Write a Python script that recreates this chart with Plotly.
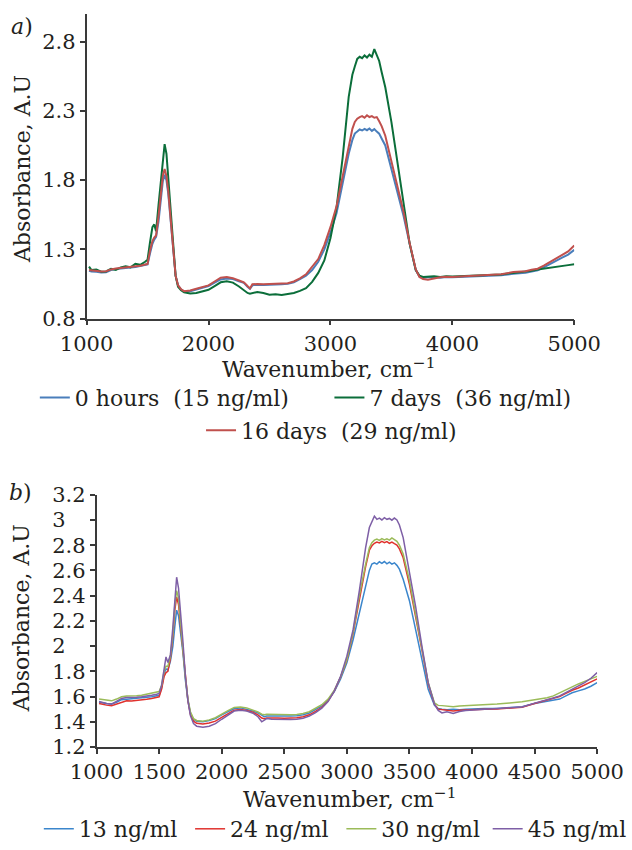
import plotly.graph_objects as go

# ---------------- data ----------------
WAVENUMBER = [
    1020, 1040, 1080, 1120, 1160, 1200, 1240, 1280, 1320, 1360,
    1400, 1440, 1480, 1500, 1520, 1540, 1555, 1570, 1590, 1610,
    1625, 1640, 1655, 1670, 1690, 1710, 1730, 1750, 1775, 1800,
    1850, 1900, 1950, 2000, 2050, 2100, 2150, 2200, 2250, 2290,
    2320, 2340, 2360, 2400, 2450, 2500, 2550, 2600, 2650, 2700,
    2750, 2800, 2850, 2900, 2950, 3000, 3050, 3100, 3150, 3180,
    3200, 3220, 3240, 3260, 3280, 3300, 3320, 3340, 3360, 3380,
    3400, 3420, 3450, 3500, 3550, 3600, 3650, 3700, 3730, 3760,
    3800, 3850, 3900, 3950, 4000, 4100, 4200, 4300, 4400, 4500,
    4600, 4650, 4700, 4750, 4800, 4850, 4900, 4950, 5000,
]

# panel a)
A_0_HOURS = [
    1.145, 1.140, 1.138, 1.133, 1.135, 1.150, 1.158, 1.160, 1.162, 1.168,
    1.172, 1.178, 1.185, 1.192, 1.270, 1.340, 1.370, 1.390, 1.500, 1.700,
    1.790, 1.838, 1.800, 1.700, 1.500, 1.290, 1.110, 1.040, 1.010, 0.995,
    0.998, 1.010, 1.020, 1.035, 1.060, 1.083, 1.090, 1.085, 1.070, 1.058,
    1.030, 1.015, 1.040, 1.045, 1.042, 1.043, 1.045, 1.048, 1.052, 1.062,
    1.085, 1.110, 1.150, 1.210, 1.300, 1.420, 1.560, 1.780, 1.990, 2.090,
    2.136, 2.150, 2.165, 2.158, 2.170, 2.160, 2.172, 2.155, 2.168, 2.150,
    2.135, 2.100, 2.050, 1.880, 1.720, 1.540, 1.340, 1.150, 1.105, 1.095,
    1.098, 1.100, 1.095, 1.100, 1.098, 1.102, 1.105, 1.110, 1.112, 1.124,
    1.130, 1.140, 1.148, 1.170, 1.195, 1.215, 1.240, 1.262, 1.296,
]
A_7_DAYS = [
    1.175, 1.150, 1.155, 1.138, 1.140, 1.160, 1.152, 1.170, 1.178, 1.170,
    1.195, 1.188, 1.210, 1.225, 1.350, 1.460, 1.480, 1.430, 1.620, 1.820,
    1.960, 2.060, 1.990, 1.800, 1.540, 1.290, 1.110, 1.030, 1.005, 0.990,
    0.982, 0.985, 0.998, 1.008, 1.035, 1.062, 1.070, 1.060, 1.032, 1.005,
    0.985, 0.980, 0.985, 0.992, 0.985, 0.972, 0.975, 0.970, 0.978, 0.985,
    1.000, 1.020, 1.065, 1.130, 1.220, 1.380, 1.600, 1.960, 2.400, 2.560,
    2.620, 2.675, 2.690, 2.680, 2.700, 2.685, 2.705, 2.690, 2.745, 2.700,
    2.660, 2.580, 2.470, 2.220, 1.920, 1.620, 1.340, 1.150, 1.110, 1.100,
    1.102, 1.105, 1.100, 1.105, 1.103, 1.108, 1.112, 1.115, 1.118, 1.130,
    1.138, 1.145, 1.155, 1.162, 1.170, 1.175, 1.182, 1.186, 1.192,
]
A_16_DAYS = [
    1.150, 1.148, 1.142, 1.140, 1.142, 1.155, 1.162, 1.165, 1.168, 1.172,
    1.176, 1.182, 1.190, 1.195, 1.290, 1.360, 1.385, 1.400, 1.540, 1.720,
    1.830, 1.880, 1.830, 1.720, 1.510, 1.290, 1.110, 1.040, 1.012, 0.998,
    1.003, 1.015, 1.025, 1.040, 1.068, 1.095, 1.100, 1.092, 1.075, 1.062,
    1.035, 1.018, 1.048, 1.050, 1.047, 1.048, 1.050, 1.052, 1.055, 1.068,
    1.090, 1.120, 1.172, 1.230, 1.330, 1.460, 1.610, 1.830, 2.060, 2.170,
    2.220, 2.243, 2.255, 2.262, 2.250, 2.268, 2.255, 2.262, 2.250, 2.255,
    2.225, 2.190, 2.120, 1.930, 1.750, 1.570, 1.345, 1.155, 1.100, 1.085,
    1.080, 1.090, 1.098, 1.102, 1.100, 1.106, 1.110, 1.115, 1.120, 1.136,
    1.142, 1.152, 1.160, 1.182, 1.207, 1.232, 1.255, 1.285, 1.327,
]

# panel b)
B_13 = [
    1.555, 1.550, 1.545, 1.542, 1.555, 1.575, 1.580, 1.582, 1.585, 1.590,
    1.595, 1.598, 1.603, 1.610, 1.670, 1.780, 1.820, 1.810, 1.880, 2.000,
    2.150, 2.285, 2.240, 2.120, 1.950, 1.730, 1.570, 1.470, 1.420, 1.405,
    1.400, 1.410, 1.425, 1.455, 1.480, 1.505, 1.510, 1.500, 1.485, 1.470,
    1.450, 1.440, 1.445, 1.445, 1.443, 1.442, 1.445, 1.448, 1.455, 1.470,
    1.495, 1.525, 1.570, 1.640, 1.740, 1.867, 2.050, 2.260, 2.490, 2.600,
    2.650, 2.660, 2.650, 2.668, 2.655, 2.670, 2.652, 2.665, 2.650, 2.660,
    2.640, 2.610, 2.530, 2.360, 2.128, 1.893, 1.657, 1.530, 1.505, 1.500,
    1.495, 1.500, 1.495, 1.500, 1.500, 1.505, 1.506, 1.512, 1.520, 1.545,
    1.560, 1.568, 1.580, 1.605, 1.630, 1.645, 1.660, 1.682, 1.710,
]
B_24 = [
    1.545, 1.540, 1.532, 1.527, 1.540, 1.558, 1.566, 1.565, 1.568, 1.572,
    1.578, 1.585, 1.592, 1.598, 1.660, 1.760, 1.790, 1.800, 1.900, 2.080,
    2.280, 2.390, 2.330, 2.180, 1.980, 1.740, 1.570, 1.460, 1.405, 1.388,
    1.383, 1.390, 1.405, 1.435, 1.465, 1.492, 1.498, 1.490, 1.475, 1.455,
    1.430, 1.425, 1.430, 1.432, 1.430, 1.428, 1.430, 1.432, 1.440, 1.455,
    1.482, 1.515, 1.565, 1.645, 1.755, 1.890, 2.100, 2.380, 2.630, 2.760,
    2.795, 2.815, 2.825, 2.818, 2.830, 2.820, 2.828, 2.815, 2.825, 2.812,
    2.800, 2.770, 2.700, 2.490, 2.240, 1.970, 1.700, 1.540, 1.500, 1.495,
    1.490, 1.485, 1.492, 1.495, 1.496, 1.500, 1.502, 1.508, 1.515, 1.545,
    1.570, 1.582, 1.600, 1.625, 1.650, 1.668, 1.690, 1.712, 1.740,
]
B_30 = [
    1.580, 1.578, 1.570, 1.566, 1.580, 1.598, 1.605, 1.603, 1.606, 1.610,
    1.618, 1.625, 1.632, 1.640, 1.690, 1.800, 1.840, 1.840, 1.920, 2.100,
    2.320, 2.440, 2.380, 2.200, 1.990, 1.750, 1.580, 1.480, 1.425, 1.410,
    1.405, 1.415, 1.432, 1.462, 1.488, 1.514, 1.518, 1.510, 1.492, 1.478,
    1.460, 1.455, 1.460, 1.458, 1.455, 1.453, 1.455, 1.458, 1.465, 1.480,
    1.505, 1.535, 1.580, 1.650, 1.755, 1.893, 2.110, 2.400, 2.650, 2.780,
    2.820, 2.840, 2.848, 2.838, 2.852, 2.842, 2.850, 2.840, 2.858, 2.845,
    2.830, 2.800, 2.730, 2.520, 2.260, 1.980, 1.710, 1.550, 1.530, 1.528,
    1.522, 1.520, 1.525, 1.527, 1.527, 1.535, 1.540, 1.548, 1.558, 1.574,
    1.590, 1.605, 1.630, 1.655, 1.680, 1.700, 1.720, 1.740, 1.760,
]
B_45 = [
    1.560, 1.553, 1.545, 1.540, 1.560, 1.585, 1.592, 1.590, 1.594, 1.598,
    1.602, 1.610, 1.618, 1.625, 1.690, 1.840, 1.914, 1.870, 1.930, 2.150,
    2.380, 2.546, 2.460, 2.300, 2.040, 1.760, 1.570, 1.450, 1.385, 1.365,
    1.357, 1.365, 1.385, 1.420, 1.455, 1.485, 1.492, 1.485, 1.468, 1.440,
    1.400, 1.415, 1.425, 1.420, 1.418, 1.415, 1.418, 1.420, 1.428, 1.445,
    1.472, 1.508, 1.560, 1.645, 1.760, 1.920, 2.130, 2.440, 2.780, 2.940,
    2.990, 3.030, 3.005, 3.015, 3.000, 3.018, 3.005, 3.012, 2.998, 3.015,
    3.000, 2.960, 2.860, 2.600, 2.310, 1.997, 1.710, 1.540, 1.490, 1.470,
    1.480, 1.465, 1.482, 1.490, 1.495, 1.500, 1.505, 1.510, 1.518, 1.548,
    1.572, 1.588, 1.605, 1.630, 1.655, 1.680, 1.710, 1.745, 1.790,
]

NAMES_A = ["0 hours\u00a0\u00a0(15 ng/ml)", "7 days\u00a0\u00a0(36 ng/ml)", "16 days\u00a0\u00a0(29 ng/ml)"]
NAMES_B = ["13 ng/ml", "24 ng/ml", "30 ng/ml", "45 ng/ml"]

X_TICKS_A = [1000, 2000, 3000, 4000, 5000]
Y_TICKS_A = [0.8, 1.3, 1.8, 2.3, 2.8]
X_TICKS_B = [1000, 1500, 2000, 2500, 3000, 3500, 4000, 4500, 5000]
Y_TICKS_B = [1.2, 1.4, 1.6, 1.8, 2.0, 2.2, 2.4, 2.6, 2.8, 3.0, 3.2]
Y_TICKTEXT_B = ["1.2", "1.4", "1.6", "1.8", "2\u00a0\u00a0\u00a0", "2.2", "2.4",
                "2.6", "2.8", "3\u00a0\u00a0\u00a0", "3.2"]

# ---------------- styling ----------------
W, H = 632, 850
FONT = "DejaVu Serif"
TXT = "#231f20"
AXC = "#3a3a3a"
COLORS_A = ["#4A7EBB", "#0B6E3A", "#C0504D"]
COLORS_B = ["#3B86CC", "#E0322E", "#9BBB59", "#7E5FA6"]


def fx(px):
    return px / W


def fy(py):
    return 1 - py / H


fig = go.Figure()

legends_a = ["legend", "legend2", "legend3"]
for ys, name, col, lg in zip([A_0_HOURS, A_7_DAYS, A_16_DAYS], NAMES_A, COLORS_A, legends_a):
    fig.add_trace(go.Scatter(x=WAVENUMBER, y=ys, mode="lines", name=name,
                             line=dict(color=col, width=2), xaxis="x", yaxis="y",
                             legend=lg))

legends_b = ["legend4", "legend5", "legend6", "legend7"]
for ys, name, col, lg in zip([B_13, B_24, B_30, B_45], NAMES_B, COLORS_B, legends_b):
    fig.add_trace(go.Scatter(x=WAVENUMBER, y=ys, mode="lines", name=name,
                             line=dict(color=col, width=1.5), xaxis="x2", yaxis="y2",
                             legend=lg))

axis_common = dict(showline=True, linecolor=AXC, linewidth=1.5, ticks="outside",
                   ticklen=5, tickwidth=1.5, tickcolor=AXC, showgrid=False,
                   zeroline=False, tickfont=dict(family=FONT, size=21, color=TXT),
                   automargin=False)


def leg(text_x, ypx):
    # legend text begins about 40 px right of the legend's left edge
    return dict(x=fx(text_x - 40), y=fy(ypx), xanchor="left", yanchor="middle",
                orientation="h", bgcolor="rgba(0,0,0,0)", itemwidth=30,
                font=dict(family=FONT, size=22, color=TXT))


fig.update_layout(
    width=W, height=H,
    margin=dict(l=0, r=0, t=0, b=0),
    paper_bgcolor="white", plot_bgcolor="white",
    font=dict(family=FONT, size=21, color=TXT),
    showlegend=True,
    xaxis=dict(domain=[fx(87), fx(577)], anchor="y", range=[1000, 5000],
               tickvals=X_TICKS_A, **axis_common),
    yaxis=dict(domain=[fy(322), fy(14)], anchor="x", range=[0.8, 3.0],
               tickvals=Y_TICKS_A, **axis_common),
    xaxis2=dict(domain=[fx(97), fx(600)], anchor="y2", range=[1000, 5000],
                tickvals=X_TICKS_B, **axis_common),
    yaxis2=dict(domain=[fy(755), fy(500)], anchor="x2", range=[1.2, 3.2],
                tickvals=Y_TICKS_B, ticktext=Y_TICKTEXT_B, **axis_common),
    legend=leg(75, 402),
    legend2=leg(371, 402),
    legend3=leg(242, 435),
    legend4=leg(79, 838),
    legend5=leg(231, 838),
    legend6=leg(383, 838),
    legend7=leg(530, 838),
)

ann_font = dict(family=FONT, size=22, color=TXT)
annotations = [
    dict(text="<i>a</i>)", x=fx(22), y=fy(27)),
    dict(text="<i>b</i>)", x=fx(21), y=fy(498)),
    dict(text="Wavenumber, cm<sup>\u22121</sup>", x=fx(331), y=fy(372)),
    dict(text="Wavenumber, cm<sup>\u22121</sup>", x=fx(352), y=fy(807)),
    dict(text="Absorbance, A.U", x=fx(22), y=fy(171), textangle=-90),
    dict(text="Absorbance, A.U", x=fx(21), y=fy(625), textangle=-90),
]
for a in annotations:
    fig.add_annotation(xref="paper", yref="paper", showarrow=False,
                       xanchor="center", yanchor="middle", font=ann_font, **a)

# remove the browser's default 8px page margin so the figure fills the window
fig.write_html("out.html",
               config={"displayModeBar": False},
               post_script="document.body.style.margin='0';"
                           "document.body.style.overflow='hidden';")
